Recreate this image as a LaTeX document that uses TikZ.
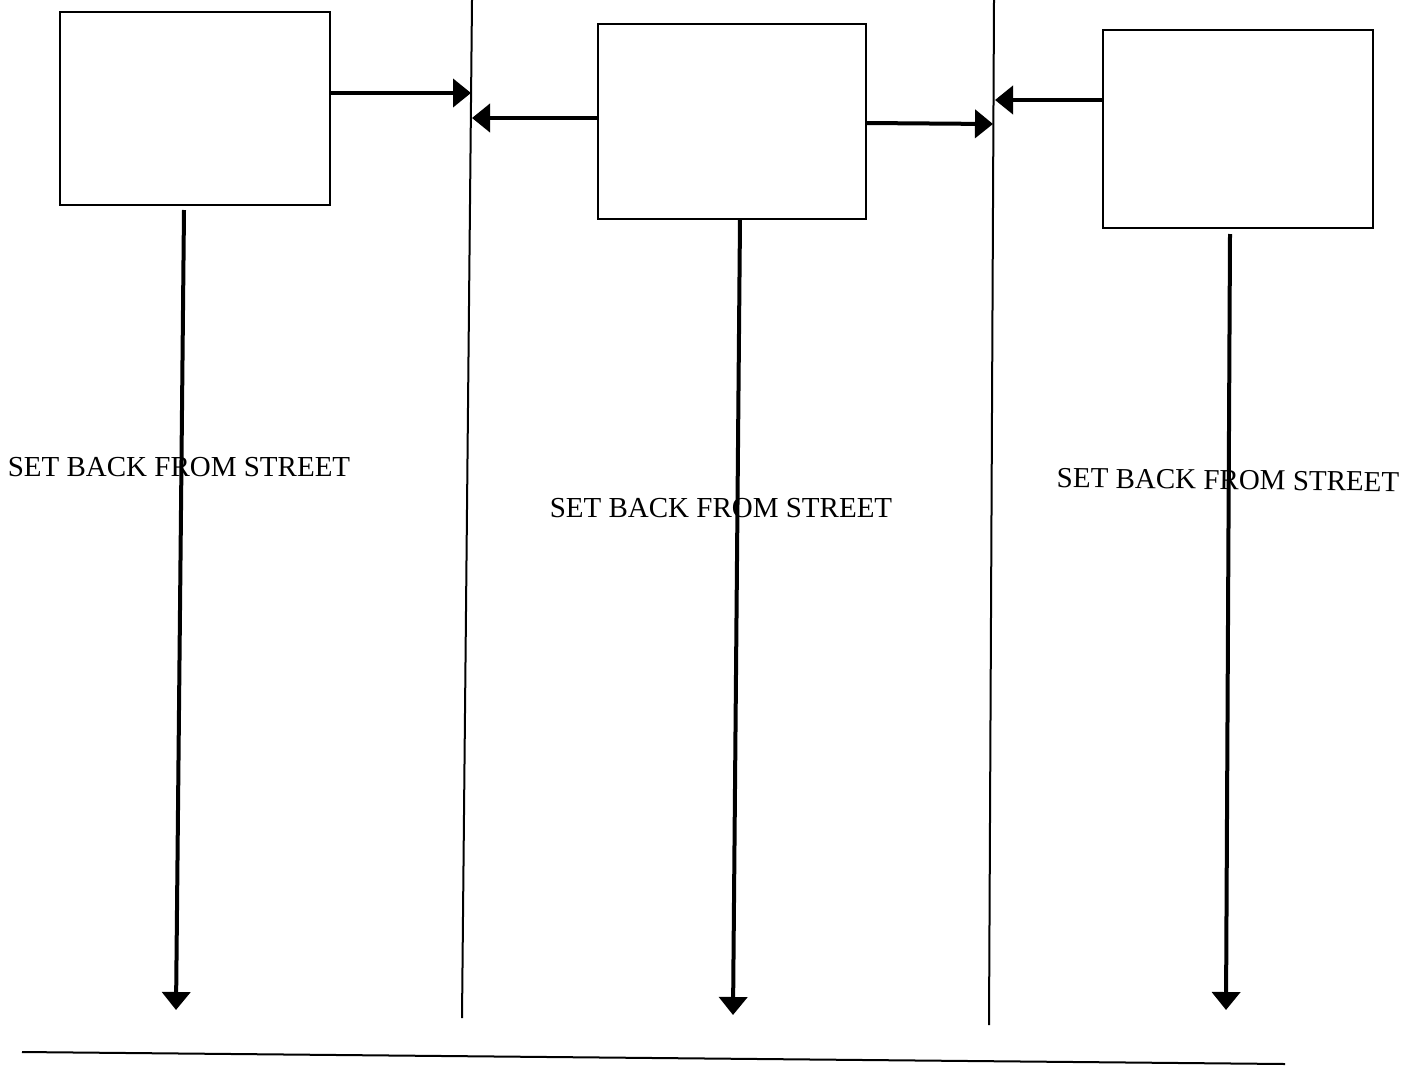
\documentclass[tikz,border=0pt]{standalone}
\usepackage{fontspec}
\setmainfont{Liberation Serif}
\usetikzlibrary{arrows.meta}
\begin{document}
\begin{tikzpicture}[x=1pt,y=-1pt,
  box/.style={draw,line width=1.8pt,inner sep=0pt,anchor=center},
  arr/.style={line width=4pt,-{Triangle[length=18pt,width=28pt]}},
  wall/.style={line width=2pt},
  lbl/.style={font=\fontsize{29}{32}\selectfont,inner sep=0pt}]
\useasboundingbox (0,0) rectangle (1426,1068);
% boxes
\node[box,minimum width=270pt,minimum height=193pt] (b1) at (195,108.5) {};
\node[box,minimum width=268pt,minimum height=195pt] (b2) at (732,121.5) {};
\node[box,minimum width=270pt,minimum height=198pt] (b3) at (1238,129) {};
% walls
\coordinate (wAt) at (472,0);
\coordinate (wAb) at (462,1018);
\coordinate (wBt) at (994,0);
\coordinate (wBb) at (989,1025);
\draw[wall] (wAt) -- (wAb);
\draw[wall] (wBt) -- (wBb);
% ground line
\coordinate (g1) at (22,1052);
\coordinate (g2) at (1285,1064);
\draw[line width=2pt] (g1) -- (g2);
% labels
\node[lbl] (t1) at (179,467) {SET BACK FROM STREET};
\node[lbl] (t2) at (721,508) {SET BACK FROM STREET};
\node[lbl,rotate=-0.7] (t3) at (1228,480) {SET BACK FROM STREET};
% horizontal arrows
\coordinate (s1) at (330,93);  \coordinate (e1) at (471,93);
\coordinate (s2) at (598,118); \coordinate (e2) at (472,118);
\coordinate (s3) at (866,123); \coordinate (e3) at (993,124);
\coordinate (s4) at (1103,100);\coordinate (e4) at (995,100);
\draw[arr] (s1) -- (e1);
\draw[arr] (s2) -- (e2);
\draw[arr] (s3) -- (e3);
\draw[arr] (s4) -- (e4);
% vertical arrows
\coordinate (d1s) at (184,210);  \coordinate (d1e) at (176,1010);
\coordinate (d2s) at (740,219);  \coordinate (d2e) at (733,1015);
\coordinate (d3s) at (1230,234); \coordinate (d3e) at (1226,1010);
\draw[arr] (d1s) -- (d1e);
\draw[arr] (d2s) -- (d2e);
\draw[arr] (d3s) -- (d3e);
\end{tikzpicture}
\end{document}
